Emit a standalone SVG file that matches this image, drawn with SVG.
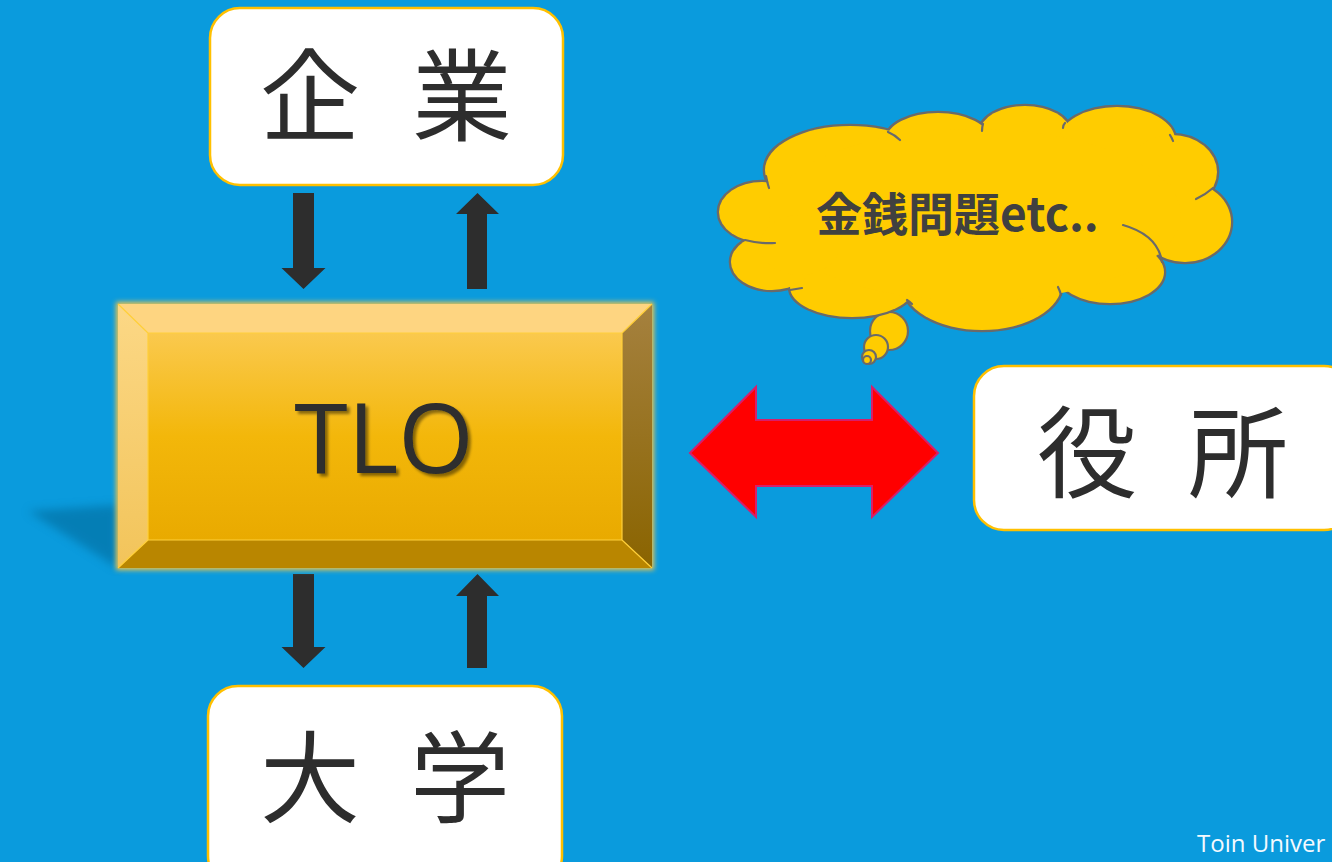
<svg xmlns="http://www.w3.org/2000/svg" xmlns:xlink="http://www.w3.org/1999/xlink" width="1332" height="862" viewBox="0 0 1332 862">
  <defs>
    <style>
      .box { fill: #FFFFFF; stroke: #FFC000; stroke-width: 2.5; }
      .jp { font-family: "Noto Sans CJK JP", "Noto Sans CJK SC", sans-serif; fill: #2D2D2D; font-size: 100px; }
      .arrow { fill: #2D2D2D; }
      .cloudline { fill: none; stroke: #6A6A6A; stroke-width: 2.2; stroke-linecap: round; }
      .bubble { fill: #FFCC00; stroke: #6A6A6A; stroke-width: 2.2; }
      .bevel-line { stroke: #FFCF3A; stroke-width: 1.2; fill: none; }
    </style>
    <linearGradient id="faceGrad" x1="0" y1="0" x2="0" y2="1">
      <stop offset="0" stop-color="#FAC94E"/>
      <stop offset="0.5" stop-color="#F3B70A"/>
      <stop offset="1" stop-color="#E9AA00"/>
    </linearGradient>
    <linearGradient id="leftGrad" x1="0" y1="0" x2="0" y2="1">
      <stop offset="0" stop-color="#FCD886"/>
      <stop offset="1" stop-color="#F2C45A"/>
    </linearGradient>
    <linearGradient id="rightGrad" x1="0" y1="0" x2="0" y2="1">
      <stop offset="0" stop-color="#A5813F"/>
      <stop offset="1" stop-color="#8A6400"/>
    </linearGradient>
    <filter id="blur5" x="-50%" y="-50%" width="200%" height="200%">
      <feGaussianBlur stdDeviation="5"/>
    </filter>
    <filter id="glow" x="-10%" y="-10%" width="120%" height="120%">
      <feGaussianBlur stdDeviation="2.5"/>
    </filter>
    <filter id="textShadow" x="-10%" y="-10%" width="130%" height="130%">
      <feGaussianBlur in="SourceAlpha" stdDeviation="1.5"/>
      <feOffset dx="3" dy="3" result="b"/>
      <feComponentTransfer><feFuncA type="linear" slope="0.45"/></feComponentTransfer>
      <feMerge><feMergeNode/><feMergeNode in="SourceGraphic"/></feMerge>
    </filter>
    <g id="lobes">
      <ellipse cx="762" cy="212" rx="43" ry="30"/>
      <ellipse cx="850" cy="170" rx="85" ry="44"/>
      <ellipse cx="938" cy="140" rx="52" ry="27"/>
      <ellipse cx="1025" cy="132" rx="45" ry="26"/>
      <ellipse cx="1117" cy="140" rx="58" ry="33"/>
      <ellipse cx="1172" cy="172" rx="45" ry="37"/>
      <ellipse cx="1185" cy="222" rx="46" ry="40"/>
      <ellipse cx="1110" cy="272" rx="54" ry="31"/>
      <ellipse cx="982" cy="283" rx="80" ry="47"/>
      <ellipse cx="852" cy="287" rx="62" ry="30"/>
      <ellipse cx="772" cy="262" rx="41" ry="28"/>
    </g>
  </defs>

  <rect x="0" y="0" width="1332" height="862" fill="#0A9BDD"/>

  <g id="connectors">
    <polygon class="arrow" points="293,193 314,193 314,268 325.5,268 303.5,289 281.5,268 293,268"/>
    <polygon class="arrow" points="477.5,193 499,214 487,214 487,289 467,289 467,214 456,214"/>
    <polygon class="arrow" points="293,574 314,574 314,647 325.5,647 303.5,668 281.5,647 293,647"/>
    <polygon class="arrow" points="477.5,574 499,596 487,596 487,668 467,668 467,596 456,596"/>
    <polygon id="double-arrow" points="690,453 756,387 756,420 872,420 872,387 938,453 872,517 872,486 756,486 756,517" fill="#FF0000" stroke="#D81E6A" stroke-width="2" stroke-linejoin="miter"/>
  </g>

  <g id="company">
    <rect class="box" x="210" y="8" width="353" height="177" rx="30" ry="30"/>
    <text class="jp" y="133"><tspan x="260">企</tspan> <tspan x="412">業</tspan></text>
  </g>

  <g id="university">
    <rect class="box" x="208" y="686" width="354" height="200" rx="30" ry="30"/>
    <text class="jp" y="815"><tspan x="260">大</tspan> <tspan x="410">学</tspan></text>
  </g>

  <g id="office">
    <rect class="box" x="974" y="366" width="380" height="164" rx="30" ry="30"/>
    <text class="jp" y="490"><tspan x="1037">役</tspan> <tspan x="1188">所</tspan></text>
  </g>

  <g id="tlo">
    <polygon points="28,511 118,505 118,568" fill="#05628F" opacity="0.5" filter="url(#blur5)"/>
    <rect x="116" y="302" width="538" height="268" fill="#F2C44A" filter="url(#glow)"/>
    <polygon points="118,304 652,304 622,333 148,333" fill="#FED581"/>
    <polygon points="118,304 148,333 148,540 118,568" fill="url(#leftGrad)"/>
    <polygon points="652,304 652,568 622,540 622,333" fill="url(#rightGrad)"/>
    <polygon points="118,568 148,540 622,540 652,568" fill="#B98600"/>
    <rect x="148" y="333" width="474" height="207" fill="url(#faceGrad)"/>
    <path class="bevel-line" d="M148,333 H622 V540 H148 Z M118,304 L148,333 M652,304 L622,333 M118,568 L148,540 M652,568 L622,540"/>
    <text x="384" y="473" font-family="'Open Sans', 'DejaVu Sans', sans-serif" font-size="97" fill="#2D2D2D" text-anchor="middle" filter="url(#textShadow)">TLO</text>
  </g>

  <g id="cloud">
    <circle class="bubble" cx="889" cy="331" r="19"/>
    <circle class="bubble" cx="876" cy="347" r="12"/>
    <circle class="bubble" cx="869" cy="357" r="7"/>
    <circle class="bubble" cx="867" cy="360" r="4"/>
    <use xlink:href="#lobes" fill="#FFCC00" stroke="#6A6A6A" stroke-width="4.6"/>
    <use xlink:href="#lobes" fill="#FFCC00" stroke="none"/>
    <ellipse cx="975" cy="215" rx="206" ry="86" fill="#FFCC00"/>
    <ellipse cx="800" cy="245" rx="40" ry="30" fill="#FFCC00"/>
    <path class="cloudline" d="M745,240 Q760,244 775,243 M766,176 Q767,182 769,188 M888,132 Q895,135 900,140 M983,124 Q982,127 982,131 M1065,123 Q1063,125 1063,128 M1170,135 Q1172,138 1173,141 M1213,188 Q1205,195 1196,199 M1123,225 Q1158,235 1162,262 M1058,287 Q1060,291 1061,295 M907,300 Q910,302 912,304 M790,290 Q796,289 802,288"/>
    <text x="816" y="231" font-family="'Noto Sans CJK JP', 'Noto Sans CJK SC', sans-serif" font-weight="bold" font-size="46" fill="#404040">金銭問題etc..</text>
  </g>

  <text x="1197" y="852" font-family="'Open Sans', 'DejaVu Sans', sans-serif" font-size="24" fill="#F4FAFF">Toin Univer</text>
</svg>
